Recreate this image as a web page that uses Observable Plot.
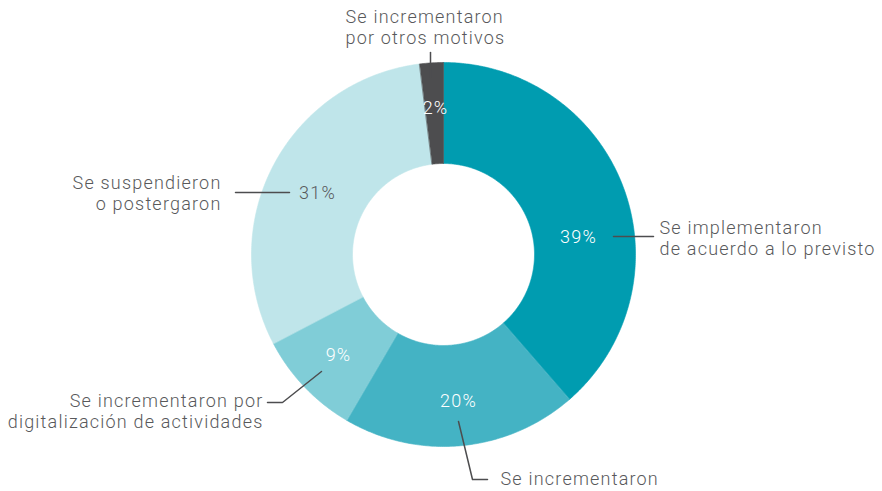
<!DOCTYPE html>
<html><head><meta charset="utf-8">
<script src="https://cdn.jsdelivr.net/npm/d3@7"></script>
<script src="https://cdn.jsdelivr.net/npm/@observablehq/plot@0.6"></script>
<style>
html,body{margin:0;padding:0;background:#fff;}
#chart text{letter-spacing:1.2px;font-weight:300;}
</style></head><body><div id="chart"></div>
<script>
// ---- data ----
const categories = [
  "Se implementaron\nde acuerdo a lo previsto",
  "Se incrementaron",
  "Se incrementaron por\ndigitalización de actividades",
  "Se suspendieron\no postergaron",
  "Se incrementaron\npor otros motivos"
];
const values = [39, 20, 9, 31, 2];
const valueLabels = ["39%", "20%", "9%", "31%", "2%"];

// ---- styles / layout ----
const sliceColors = ["#009cb0", "#44b3c4", "#80cdd7", "#bfe5ea", "#4d4d4f"];
const pctColors = ["#ffffff", "#ffffff", "#ffffff", "#58595b", "#ffffff"];
const W = 882, H = 491, cx = 443, cy = 254, R = 192, R0 = 91;
const pctPos = [[578, 237], [458, 401], [338, 355], [317, 193], [435, 108]];
const labelPos = [[659, 237.5, "start"], [500, 478, "start"], [263, 410, "end"], [221, 192.5, "end"], [345, 26, "start"]];
const leaders = [
  [[613, 236], [653, 236]],
  [[458, 421], [472, 479], [487, 479]],
  [[321, 371], [282, 402], [267, 402]],
  [[235, 192], [289, 192]],
  [[430, 52], [430, 77]]
];

const arcs = d3.pie().sort(null).value(d => d)(values);
function slicePoints(a0, a1) {
  const n = Math.max(8, Math.ceil((a1 - a0) / 0.01));
  const pts = [];
  for (let k = 0; k <= n; k++) { const a = a0 + (a1 - a0) * k / n; pts.push({x: cx + R * Math.sin(a), y: cy - R * Math.cos(a)}); }
  for (let k = n; k >= 0; k--) { const a = a0 + (a1 - a0) * k / n; pts.push({x: cx + R0 * Math.sin(a), y: cy - R0 * Math.cos(a)}); }
  return pts;
}

const marks = [];
arcs.forEach((a, i) => {
  marks.push(Plot.line(slicePoints(a.startAngle, a.endAngle), {x: "x", y: "y", fill: sliceColors[i], stroke: sliceColors[i], strokeWidth: 0.6, curve: "linear-closed"}));
});
leaders.forEach(pts => {
  marks.push(Plot.line(pts.map(([x, y]) => ({x, y})), {x: "x", y: "y", stroke: "#4d4d4f", strokeWidth: 1.5}));
});
const pctData = valueLabels.map((t, i) => ({t, x: pctPos[i][0], y: pctPos[i][1], c: pctColors[i]}));
marks.push(Plot.text(pctData, {x: "x", y: "y", text: "t", fill: d => d.c, fontSize: 18, textAnchor: "middle", lineAnchor: "middle"}));
categories.forEach((c, i) => {
  marks.push(Plot.text([{t: c, x: labelPos[i][0], y: labelPos[i][1]}], {x: "x", y: "y", text: "t", fill: "#58595b", fontSize: 18, lineHeight: 1.17, textAnchor: labelPos[i][2], lineAnchor: "middle"}));
});

const chart = Plot.plot({
  width: W, height: H, margin: 0,
  x: {domain: [0, W], range: [0, W], axis: null},
  y: {domain: [0, H], range: [0, H], axis: null},
  style: {fontFamily: "Roboto, sans-serif", background: "#fff"},
  marks
});
document.getElementById("chart").appendChild(chart);
</script></body></html>
